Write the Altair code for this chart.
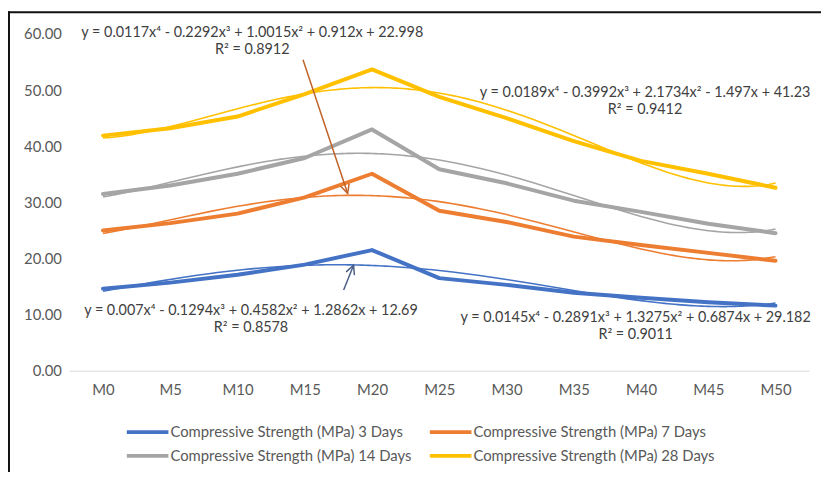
import altair as alt
import pandas as pd

# ---------------- data ----------------
mix_labels = ["M0", "M5", "M10", "M15", "M20", "M25", "M30", "M35", "M40", "M45", "M50"]
mix_pct = [0, 5, 10, 15, 20, 25, 30, 35, 40, 45, 50]

series_names = [
    "Compressive Strength (MPa) 3 Days",
    "Compressive Strength (MPa) 7 Days",
    "Compressive Strength (MPa) 14 Days",
    "Compressive Strength (MPa) 28 Days",
]
cs_3 = [14.6, 15.7, 17.1, 18.9, 21.5, 16.5, 15.3, 13.9, 13.0, 12.2, 11.6]
cs_7 = [25.0, 26.3, 28.0, 30.9, 35.1, 28.5, 26.5, 23.9, 22.4, 21.0, 19.6]
cs_14 = [31.5, 33.0, 35.1, 37.9, 43.0, 35.9, 33.4, 30.3, 28.3, 26.2, 24.5]
cs_28 = [41.9, 43.2, 45.3, 49.3, 53.7, 48.8, 45.0, 40.9, 37.4, 35.1, 32.6]
series_values = [cs_3, cs_7, cs_14, cs_28]
series_colors = ["#4472C4", "#ED7D31", "#A5A5A5", "#FFC000"]

# legend fills column by column: order so rows read 3/7 then 14/28
legend_order = [0, 2, 1, 3]

y_ticks = [0, 10, 20, 30, 40, 50, 60]

# trendline equation labels (text, centre x in mix %, y in MPa)
eq_text = [
    "y = 0.0117x\u2074 - 0.2292x\u00b3 + 1.0015x\u00b2 + 0.912x + 22.998",
    "R\u00b2 = 0.8912",
    "y = 0.0189x\u2074 - 0.3992x\u00b3 + 2.1734x\u00b2 - 1.497x + 41.23",
    "R\u00b2 = 0.9412",
    "y = 0.007x\u2074 - 0.1294x\u00b3 + 0.4582x\u00b2 + 1.2862x + 12.69",
    "R\u00b2 = 0.8578",
    "y = 0.0145x\u2074 - 0.2891x\u00b3 + 1.3275x\u00b2 + 0.6874x + 29.182",
    "R\u00b2 = 0.9011",
]
eq_x = [11.1, 11.1, 40.3, 40.3, 11.0, 11.0, 39.6, 39.6]
eq_y = [60.1, 57.1, 49.5, 46.5, 10.6, 7.6, 9.3, 6.3]

# arrows (tail -> head, in data units)
arrow_x = [14.87, 17.89]
arrow_y = [55.4, 14.4]
arrow_x2 = [18.19, 18.63]
arrow_y2 = [31.6, 18.8]
arrow_angle = [161.7, 21.8]
arrow_color = ["#C0622A", "#4A5E86"]

# ---------------- tables ----------------
rows = []
for name, vals in zip(series_names, series_values):
    for lab, p, v in zip(mix_labels, mix_pct, vals):
        rows.append({"series": name, "mix": lab, "pct": p, "strength": v})
df = pd.DataFrame(rows)

eq_df = pd.DataFrame({"t": eq_text, "x": eq_x, "y": eq_y})
arrow_df = pd.DataFrame({"x": arrow_x, "y": arrow_y, "x2": arrow_x2, "y2": arrow_y2,
                         "ang": arrow_angle, "c": arrow_color})
one_df = pd.DataFrame({"z": [0]})

FONT = "Lato"
TXT = "#595959"
FS = 15

x_scale = alt.Scale(domain=[-2.5, 52.5], nice=False, zero=False)
y_scale = alt.Scale(domain=[0, 60], nice=False)

x_axis = alt.Axis(values=mix_pct, labelExpr="'M' + datum.value", title=None, grid=False,
                  ticks=False, domain=True, domainColor="#D9D9D9", domainWidth=1,
                  labelPadding=12, labelFont=FONT, labelFontSize=FS, labelColor=TXT)
y_axis = alt.Axis(values=y_ticks, format=".2f", title=None, grid=False, ticks=False,
                  domain=False, labelPadding=8, labelFont=FONT, labelFontSize=FS,
                  labelColor=TXT)

color_scale = alt.Scale(domain=[series_names[i] for i in legend_order],
                        range=[series_colors[i] for i in legend_order])

color = alt.Color(
    "series:N",
    scale=color_scale,
    legend=alt.Legend(
        title=None, orient="none", legendX=70, legendY=393, columns=2,
        symbolType="M-3,0H3", symbolSize=196, symbolStrokeWidth=4,
        labelOffset=14, columnPadding=10, rowPadding=7, labelLimit=0,
        labelFont=FONT, labelFontSize=FS, labelColor=TXT,
    ),
)

base = alt.Chart(df)

lines = base.mark_line(strokeWidth=4, strokeJoin="round", strokeCap="round").encode(
    x=alt.X("pct:Q", scale=x_scale, axis=x_axis),
    y=alt.Y("strength:Q", scale=y_scale, axis=y_axis),
    color=color,
)

trends = base.transform_regression(
    "pct", "strength", method="poly", order=4, groupby=["series"]
).mark_line(strokeWidth=1.6).encode(
    x=alt.X("pct:Q", scale=x_scale),
    y=alt.Y("strength:Q", scale=y_scale),
    color=alt.Color("series:N", scale=color_scale),
)

eqs = alt.Chart(eq_df).mark_text(font=FONT, fontSize=14.5, color="#404040").encode(
    x=alt.X("x:Q", scale=x_scale),
    y=alt.Y("y:Q", scale=y_scale),
    text="t:N",
)

arrow_lines = alt.Chart(arrow_df).mark_rule(strokeWidth=1.5).encode(
    x=alt.X("x:Q", scale=x_scale),
    y=alt.Y("y:Q", scale=y_scale),
    x2="x2:Q",
    y2="y2:Q",
    color=alt.Color("c:N", scale=None),
)
arrow_heads = alt.Chart(arrow_df).mark_point(
    shape="M-0.5,1L0,0L0.5,1", filled=False, size=324, strokeWidth=1.5, opacity=1
).encode(
    x=alt.X("x2:Q", scale=x_scale),
    y=alt.Y("y2:Q", scale=y_scale),
    angle=alt.Angle("ang:Q", scale=None),
    color=alt.Color("c:N", scale=None),
)

border_top = alt.Chart(one_df).mark_rule(color="#111111", strokeWidth=2).encode(
    x=alt.value(-62), x2=alt.value(760), y=alt.value(-22)
)
border_left = alt.Chart(one_df).mark_rule(color="#111111", strokeWidth=2).encode(
    x=alt.value(-61), y=alt.value(-23), y2=alt.value(460)
)

chart = alt.layer(
    lines, trends, eqs, arrow_lines, arrow_heads, border_top, border_left
).properties(
    width=747, height=340,
    padding={"left": 62, "top": 24, "right": 12, "bottom": 100},
    autosize=alt.AutoSizeParams(type="none"),
    background="white",
).configure_view(stroke=None)

chart.save("out.html", embed_options={"renderer": "svg", "actions": False})
